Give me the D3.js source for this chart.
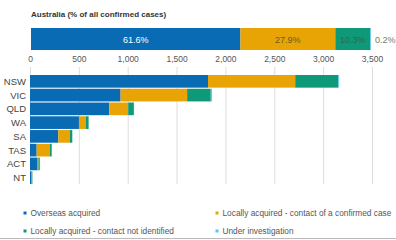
<!DOCTYPE html>
<html>
<head>
<meta charset="utf-8">
<script src="https://cdn.jsdelivr.net/npm/d3@7"></script>
<style>
  body { margin: 0; background: #fff; }
  svg { display: block; font-family: "Liberation Sans", Arial, sans-serif; }
  .tick text { fill: #555; font-size: 8.5px; }
  .state text { fill: #444; font-size: 9.5px; }
</style>
</head>
<body>
<svg id="chart" width="396" height="240"></svg>
<script>
var STATES = ['NSW', 'VIC', 'QLD', 'WA', 'SA', 'TAS', 'ACT', 'NT'];
var SOURCES = ['Overseas acquired', 'Locally acquired - contact of a confirmed case',
  'Locally acquired - contact not identified', 'Under investigation'];
var COLORS = ['#0a6bb5', '#e8a404', '#0e9a78', '#5cc3ef'];

// cases per state, one array per source
var OVERSEAS = [1822, 927, 811, 501, 290, 68, 78, 17];
var CONTACT = [892, 681, 194, 72, 119, 136, 8, 4];
var NOT_IDENTIFIED = [440, 242, 58, 27, 24, 18, 14, 4];
var INVESTIGATION = [10, 12, 2, 0, 0, 0, 0, 0];

var AUS_PCT = [61.6, 27.9, 10.3, 0.2];
var X_TICKS = [0, 500, 1000, 1500, 2000, 2500, 3000, 3500];

var svg = d3.select('#chart');
var left = 30, right = 372;

// ----- Australia percentage bar -------------------------------------------
svg.append('text')
    .attr('x', 31).attr('y', 17)
    .attr('font-size', 8).attr('font-weight', 'bold').attr('fill', '#333')
    .text('Australia (% of all confirmed cases)');

var pct = d3.scaleLinear().domain([0, 100]).range([31, 371]);
var cum = d3.cumsum(AUS_PCT);
var pctData = AUS_PCT.map((v, i) => ({ v: v, x0: cum[i] - v, x1: cum[i], i: i }));

svg.selectAll('.pct')
    .data(pctData)
  .enter().append('rect')
    .attr('class', 'pct')
    .attr('x', (d) => pct(d.x0))
    .attr('width', (d) => pct(d.x1) - pct(d.x0))
    .attr('y', 28).attr('height', 22)
    .attr('fill', (d) => COLORS[d.i]);

var pctFill = ['#fff', '#6b5a2a', '#2d6852', '#777'];
svg.selectAll('.pct-label')
    .data(pctData)
  .enter().append('text')
    .attr('x', (d) => d.i === 3 ? pct(100) + 4 : (pct(d.x0) + pct(d.x1)) / 2)
    .attr('y', 42.5)
    .attr('text-anchor', (d) => d.i === 3 ? 'start' : 'middle')
    .attr('font-size', 9)
    .attr('fill', (d) => pctFill[d.i])
    .text((d) => d.v.toFixed(1) + '%');

// ----- State stacked bars -------------------------------------------------
var x = d3.scaleLinear().domain([0, 3500]).range([left, right]);
var y = d3.scaleBand().domain(STATES).range([75, 184]).paddingInner(0.08);

svg.append('g')
    .attr('transform', 'translate(0,' + 184 + ')')
    .call(d3.axisTop(x).tickValues(X_TICKS).tickFormat(d3.format(',')).tickSize(184 - 67))
    .call((g) => g.select('.domain').remove())
    .call((g) => g.selectAll('.tick line').attr('stroke', '#ddd'))
    .call((g) => g.selectAll('.tick text').attr('y', -122));

var rows = STATES.map((s, i) => ({
  state: s,
  values: [OVERSEAS[i], CONTACT[i], NOT_IDENTIFIED[i], INVESTIGATION[i]]
}));

var g = svg.append('g');
rows.forEach(function (r) {
  var c = d3.cumsum(r.values);
  g.selectAll(null)
      .data(r.values.map((v, i) => ({ x0: c[i] - v, x1: c[i], i: i })).filter((d) => d.x1 > d.x0))
    .enter().append('rect')
      .attr('x', (d) => x(d.x0))
      .attr('width', (d) => x(d.x1) - x(d.x0))
      .attr('y', y(r.state))
      .attr('height', y.bandwidth())
      .attr('fill', (d) => COLORS[d.i]);
});

svg.append('g')
    .attr('class', 'state')
    .selectAll('text')
    .data(STATES)
  .enter().append('text')
    .attr('x', 26)
    .attr('y', (d) => y(d) + y.bandwidth() / 2 + 3.5)
    .attr('text-anchor', 'end')
    .text((d) => d);

// ----- Legend -------------------------------------------------------------
var legendPos = [[25, 213], [217, 213], [25, 231], [217, 231]];
var legend = svg.selectAll('.legend')
    .data(SOURCES)
  .enter().append('g')
    .attr('transform', (d, i) => 'translate(' + legendPos[i][0] + ',' + legendPos[i][1] + ')');

legend.append('rect')
    .attr('x', -1.5).attr('y', -1.5).attr('width', 3).attr('height', 3)
    .attr('fill', (d, i) => COLORS[i]);

legend.append('text')
    .attr('x', 5.5).attr('y', 3)
    .attr('font-size', 8.3).attr('fill', '#555')
    .text((d) => d);

svg.append('line')
    .attr('x1', 0).attr('x2', 396).attr('y1', 238.5).attr('y2', 238.5)
    .attr('stroke', '#bbb');
</script>
</body>
</html>
